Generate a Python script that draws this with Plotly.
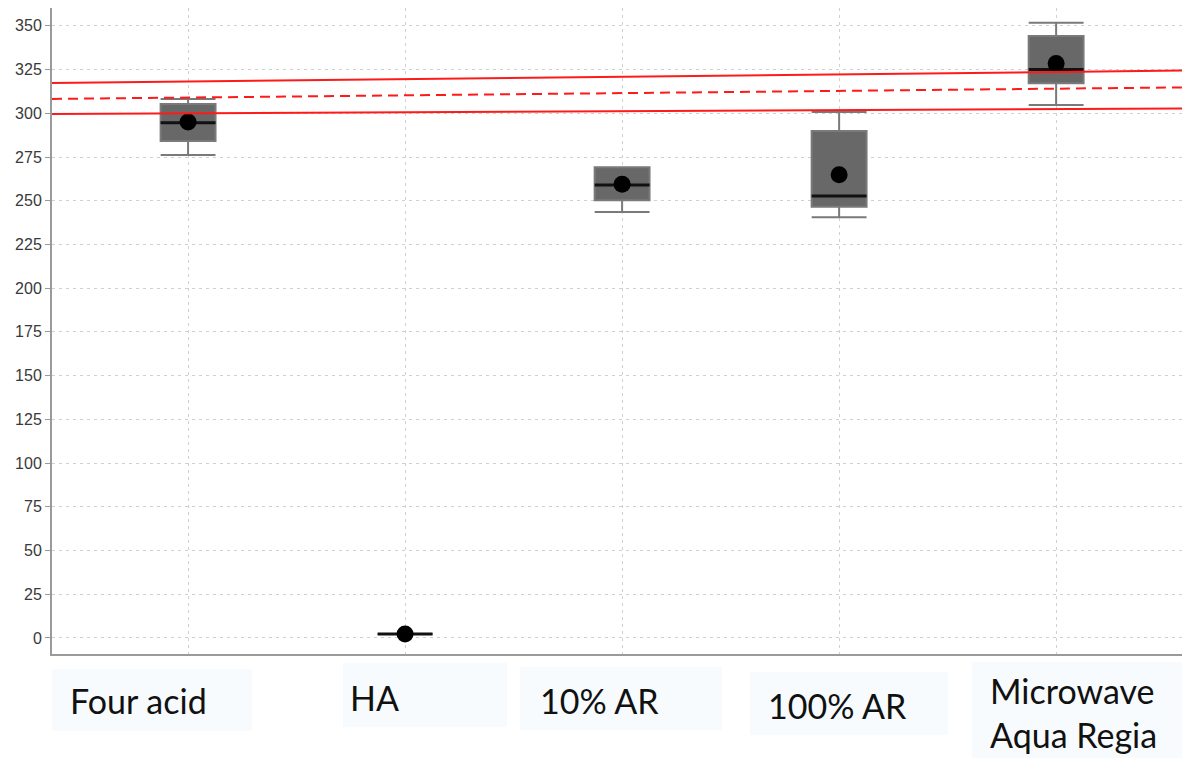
import plotly.graph_objects as go

# Digestion methods and their box statistics
methods = ["Four acid", "HA", "10% AR", "100% AR", "Microwave<br>Aqua Regia"]
q1 = [284.2, 2.2, 250.2, 246.6, 317.1]
median = [294.6, 2.2, 259.0, 252.7, 325.1]
q3 = [305.3, 2.2, 269.1, 289.9, 344.2]
lower_whisker = [276.2, 2.2, 243.6, 240.5, 304.7]
upper_whisker = [308.2, 2.2, 269.1, 300.7, 351.8]
means = [295.0, 2.2, 259.4, 264.9, 328.5]

# Certified value band (upper limit, certified value, lower limit), left and right ends
band_x = [-0.627, 4.58]
band_upper = [317.3, 324.4]
band_center = [308.2, 314.8]
band_lower = [299.6, 302.7]

y_ticks = list(range(0, 351, 25))

pos = list(range(len(methods)))
box_w = 0.253

fig = go.Figure()

fig.add_trace(go.Box(
    x=pos, q1=q1, median=median, q3=q3,
    lowerfence=lower_whisker, upperfence=upper_whisker,
    width=box_w, whiskerwidth=1,
    fillcolor="#686868", line=dict(color="#7a7a7a", width=2),
    boxpoints=False, hoverinfo="skip", showlegend=False,
))

# Medians drawn as black bars across each box
mx, my = [], []
for p, m in zip(pos, median):
    mx += [p - box_w / 2, p + box_w / 2, None]
    my += [m, m, None]
fig.add_trace(go.Scatter(x=mx, y=my, mode="lines",
                         line=dict(color="#111111", width=3), showlegend=False))

# Means as filled dots
fig.add_trace(go.Scatter(x=pos, y=means, mode="markers",
                         marker=dict(color="#000000", size=17), showlegend=False))

# Reference band
for ys, dash in [(band_upper, "solid"), (band_center, "10px,6px"), (band_lower, "solid")]:
    fig.add_trace(go.Scatter(x=band_x, y=ys, mode="lines",
                             line=dict(color="#ff1a1a", width=2, dash=dash),
                             showlegend=False))

# Category labels in light text boxes under the axis
W, H = 1182, 758
PL, PB, PH = 52, 654, 646
label_boxes = [
    (52, 252, 669, 731),
    (343, 507, 663, 727),
    (520, 722, 667, 730),
    (750, 948, 672, 735),
    (972, 1182, 662, 758),
]
for (x0, x1, y0, y1) in label_boxes:
    fig.add_shape(type="rect", xref="paper", yref="paper",
                  x0=(x0 - PL) / (W - PL), x1=(x1 - PL) / (W - PL),
                  y0=(PB - y1) / PH, y1=(PB - y0) / PH,
                  fillcolor="#f8fbfd", line=dict(width=0), layer="below")

text_pos = [(68, 700), (348, 697), (538, 700), (766, 705), (988, 712)]
for name, (tx, ty) in zip(methods, text_pos):
    fig.add_annotation(text=name, xref="paper", yref="paper",
                       x=(tx - PL) / (W - PL), y=(PB - ty) / PH,
                       xanchor="left", yanchor="middle",
                       align="left", showarrow=False,
                       font=dict(family="Lato, Open Sans, sans-serif", size=34, color="#111111"))

fig.update_layout(
    width=W, height=H,
    margin=dict(l=PL, r=0, t=8, b=H - PB),
    paper_bgcolor="white", plot_bgcolor="white",
    xaxis=dict(range=[-0.627, 4.58], tickvals=pos, ticktext=[""] * 5,
               showgrid=True, gridcolor="#d0d0d0", griddash="3px,4px", gridwidth=1,
               showline=True, linecolor="#9a9a9a", linewidth=2,
               ticks="", zeroline=False, fixedrange=True),
    yaxis=dict(range=[-9.2, 360.2], tickvals=y_ticks,
               showgrid=True, gridcolor="#d0d0d0", griddash="3px,4px", gridwidth=1,
               showline=True, linecolor="#9a9a9a", linewidth=2,
               ticks="outside", ticklen=5, tickcolor="#9a9a9a",
               tickfont=dict(family="Liberation Sans, Arial, sans-serif", size=16, color="#3a3a3a"),
               zeroline=False, fixedrange=True),
)

fig.write_html("out.html")
